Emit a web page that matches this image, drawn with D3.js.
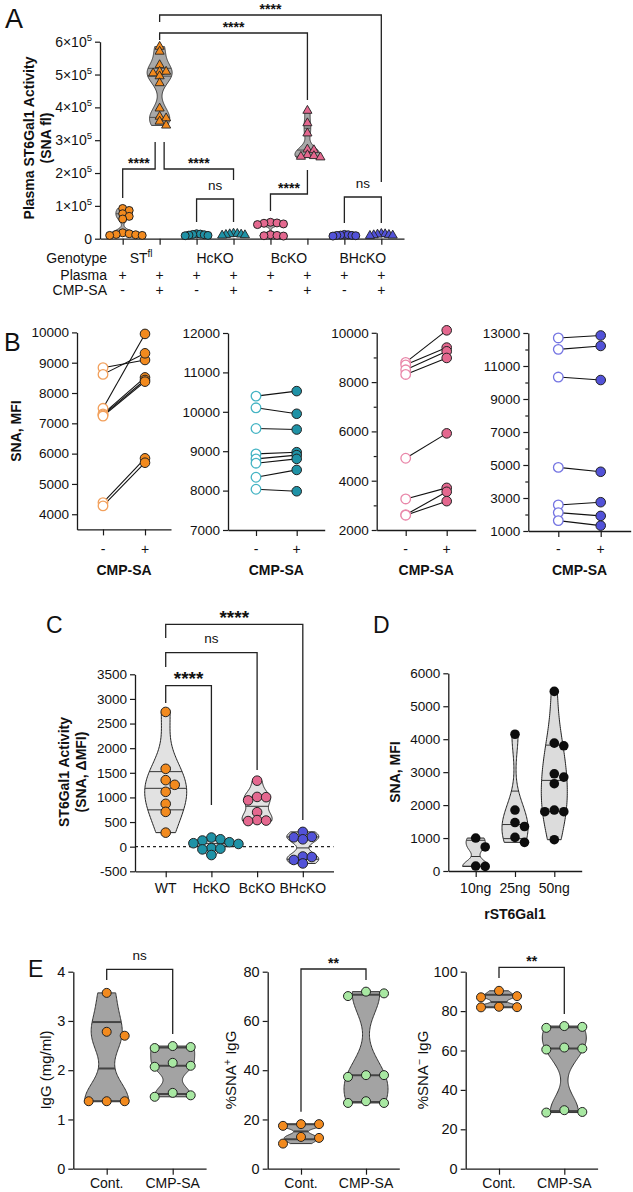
<!DOCTYPE html>
<html><head><meta charset="utf-8">
<script src="https://cdn.jsdelivr.net/npm/d3@7"></script>
<style>
body{margin:0;background:#fff;}
svg{display:block;background:#fff;}
</style></head><body>
<svg id="fig" width="633" height="1192"></svg>
<script>
// ================= DATA =================
// Panel A : plasma ST6Gal1 activity (SNA fl)
const aGroups   = ["STfl-","STfl+","HcKO-","HcKO+","BcKO-","BcKO+","BHcKO-","BHcKO+"];
const aGenotype = ["ST","HcKO","BcKO","BHcKO"];
const aPlasma   = ["+","+","+","+","+","+","+","+"];
const aCmpSa    = ["-","+","-","+","-","+","-","+"];
const aYTicks   = [0,100000,200000,300000,400000,500000,600000];
const aSTflMinus  = [92000,86000,76000,68000,60000,18000,15000,13000,12000,10000,10000];
const aSTflPlus   = [585000,570000,529000,509000,509000,504000,495000,474000,397000,372000,367000,357000,345000];
const aHcKOMinus  = [15000,14000,13000,12000,11000,10000,9000];
const aHcKOPlus   = [16000,15000,14000,13000,12000,11000,10000];
const aBcKOMinus  = [50000,48000,47000,45000,43000,12000,10000,9000,8000];
const aBcKOPlus   = [390000,352000,321000,272000,270000,255000,252000,250000,248000];
const aBHcKOMinus = [13000,12000,11000,10000,10000,9000,8000];
const aBHcKOPlus  = [15000,14000,13000,12000,11000,10000,9000];

// Panel B : SNA MFI before (-) / after (+) CMP-SA
const bXLabels = ["-","+"];
const b1Before = [8835,8615,7495,7310,7280,7240,4385,4275];
const b1After  = [9090,9310,9950,8515,8430,8375,5845,5700];
const b1Ticks  = [4000,5000,6000,7000,8000,9000,10000];
const b2Before = [10398,10102,9576,8932,8805,8695,8339,8034];
const b2After  = [10525,9950,9550,8975,8900,8805,8525,7983];
const b2Ticks  = [7000,8000,9000,10000,11000,12000];
const b3Before = [8800,8700,8500,8310,4910,3260,2620,2600];
const b3After  = [10100,9400,9250,8980,5920,3710,3550,3170];
const b3Ticks  = [2000,4000,6000,8000,10000];
const b3Minor  = [3000,5000,7000,9000];
const b4Before = [12700,12010,10330,4855,2580,2115,1630];
const b4After  = [12850,12215,10150,4590,2745,1915,1325];
const b4Ticks  = [1000,3000,5000,7000,9000,11000,13000];
const b4Minor  = [2000,4000,6000,8000,10000,12000];

// Panel C : ST6Gal1 activity (SNA, delta MFI)
const cGroups = ["WT","HcKO","BcKO","BHcKO"];
const cTicks  = [-500,0,500,1000,1500,2000,2500,3000,3500];
const cWT     = [2736,1581,1351,1256,1114,870,707,285];
const cHcKO   = [185,150,125,90,70,55,-30,-40,-55,-170];
const cBcKO   = [1340,1010,1005,940,700,540,530,520];
const cBHcKO  = [300,200,190,150,-200,-210,-270,-340];

// Panel D : rST6Gal1 dose
const dGroups = ["10ng","25ng","50ng"];
const dTicks  = [0,1000,2000,3000,4000,5000,6000];
const d10 = [1000,730,150,140];
const d25 = [4150,1850,1470,1350,1020,870];
const d50 = [5450,3880,3800,2950,2850,2650,1850,1800,1800,950];

// Panel E
const eGroups = ["Cont.","CMP-SA"];
const e1Ticks = [0,1,2,3,4];
const e1Cont  = [3.57,2.78,2.70,1.37,1.37,1.37];
const e1Cmp   = [2.49,2.47,2.45,2.15,2.09,2.07,1.54,1.49,1.46];
const e2Ticks = [0,20,40,60,80];
const e2Cont  = [18.1,18.1,17.4,12.9,12.5,10.2];
const e2Cmp   = [71.9,71.2,70.1,38.0,38.0,37.3,27.4,26.7,26.7];
const e3Ticks = [0,20,40,60,80,100];
const e3Cont  = [90.3,87.6,87.0,82.2,82.0,81.9];
const e3Cmp   = [72.4,72.0,71.5,61.5,61.0,60.5,29.7,28.8,28.5];

// ================= HELPERS =================
const FONT = "'Liberation Sans', Arial, Helvetica, sans-serif";
const COL = {orange:"#F28A1E", orangeOpen:"#F2A05C", teal:"#1F92A6", tealOpen:"#45B4C4",
  pink:"#E4688F", pinkOpen:"#E987A9", blue:"#5252D8", blueOpen:"#7474E2", green:"#A8E8A2", ink:"#1a1a1a"};
const svg = d3.select("#fig").attr("font-family", FONT);

function text(g, x, y, s, o = {}) {
  const t = g.append("text").attr("x", x).attr("y", y).text(s)
    .attr("font-size", o.fs || 14).attr("fill", o.fill || "#111")
    .attr("text-anchor", o.anchor || "middle");
  if (o.bold) t.attr("font-weight", "bold");
  return t;
}
function vtext(g, x, y, parts, o = {}) {
  const t = g.append("text").attr("transform", `translate(${x},${y}) rotate(-90)`)
    .attr("text-anchor", "middle").attr("font-size", o.fs || 14).attr("fill", "#111");
  if (o.bold) t.attr("font-weight", "bold");
  parts.forEach(p => {
    const ts = t.append("tspan").text(p.t);
    if (p.sup) ts.attr("dy", -5).attr("font-size", (o.fs || 14) * 0.7);
    if (p.after) ts.attr("dy", 5);
  });
  return t;
}
function styleAxis(a, fs) {
  a.attr("font-family", FONT).attr("font-size", fs);
  a.select(".domain").attr("stroke", COL.ink).attr("stroke-width", 1.3);
  a.selectAll(".tick line").attr("stroke", COL.ink).attr("stroke-width", 1.2);
  a.selectAll(".tick text").attr("fill", "#111");
}
function leftAxis(g, y, x, ticks, fs, minor, fmt) {
  if (minor) {
    g.append("g").attr("transform", `translate(${x},0)`)
      .call(d3.axisLeft(y).tickValues(minor).tickSize(3).tickFormat("").tickSizeOuter(0))
      .call(a => { a.select(".domain").remove(); a.selectAll("line").attr("stroke", COL.ink).attr("stroke-width", 1.2); });
  }
  const a = g.append("g").attr("transform", `translate(${x},0)`)
    .call(d3.axisLeft(y).tickValues(ticks).tickSize(5).tickPadding(3).tickSizeOuter(0)
      .tickFormat(fmt || (d => String(d))));
  styleAxis(a, fs);
  return a;
}
function bottomAxis(g, x, yPos) {
  const a = g.append("g").attr("transform", `translate(0,${yPos})`)
    .call(d3.axisBottom(x).tickSize(6).tickSizeOuter(0).tickFormat(""));
  styleAxis(a, 12);
  return a;
}
function quantileGP(s, p) {
  const n = s.length; const pos = p * (n + 1);
  if (pos <= 1) return s[0];
  if (pos >= n) return s[n - 1];
  const i = Math.floor(pos), f = pos - i;
  return s[i - 1] + f * (s[i] - s[i - 1]);
}
function violin(g, values, cx, y, o) {
  const s = values.slice().sort(d3.ascending);
  const lo = s[0], hi = s[s.length - 1], span = hi - lo;
  if (span <= 0) return;
  const sd = d3.deviation(values) || span;
  let h = (o.bw || 0.5) * 1.06 * sd * Math.pow(values.length, -0.2);
  h = Math.max(h, span * (o.minFrac == null ? 0.18 : o.minFrac));
  const dens = v => d3.sum(values, x => Math.exp(-0.5 * ((v - x) / h) ** 2));
  const pts = d3.range(81).map(i => { const v = lo + span * i / 80; return [v, dens(v)]; });
  const wS = d3.scaleLinear().domain([0, d3.max(pts, p => p[1])]).range([0, o.half]);
  const area = d3.area().y(p => y(p[0])).x0(p => cx - wS(p[1])).x1(p => cx + wS(p[1])).curve(d3.curveCatmullRom);
  g.append("path").datum(pts).attr("d", area).attr("fill", o.fill)
    .attr("stroke", o.stroke || "#222").attr("stroke-width", o.sw || 1);
  [0.25, 0.5, 0.75].forEach(p => {
    const q = quantileGP(s, p), hw = wS(dens(q));
    g.append("line").attr("x1", cx - hw).attr("x2", cx + hw).attr("y1", y(q)).attr("y2", y(q))
      .attr("stroke", o.qStroke || "#333").attr("stroke-width", o.qw || 1);
  });
}
function swarm(values, y, step, minDist) {
  const placed = [];
  return values.map(v => {
    const py = y(v);
    for (let k = 0; k < 60; k++) {
      const off = (k === 0 ? 0 : (k % 2 ? 1 : -1) * Math.ceil(k / 2)) * step;
      if (placed.every(q => Math.hypot(q[0] - off, q[1] - py) >= minDist)) { placed.push([off, py]); return off; }
    }
    return 0;
  });
}
function points(g, values, cx, y, o) {
  const offs = swarm(values, y, o.step, o.minDist);
  if (o.shape === "tri") {
    const sym = d3.symbol(d3.symbolTriangle).size(o.size || 34);
    g.selectAll(null).data(values).join("path").attr("d", sym)
      .attr("transform", (d, i) => `translate(${cx + offs[i]},${y(d)})`)
      .attr("fill", o.fill).attr("stroke", o.stroke || "#222").attr("stroke-width", 0.9);
  } else {
    g.selectAll(null).data(values).join("circle")
      .attr("cx", (d, i) => cx + offs[i]).attr("cy", d => y(d)).attr("r", o.r)
      .attr("fill", o.fill).attr("stroke", o.stroke || "#222").attr("stroke-width", o.sw == null ? 1 : o.sw);
  }
}
function bracket(g, xa, xb, yl, ya, yb, label, o = {}) {
  g.append("path").attr("d", `M${xa},${ya}V${yl}H${xb}V${yb}`)
    .attr("fill", "none").attr("stroke", "#222").attr("stroke-width", 1.3);
  const mx = (xa + xb) / 2;
  if (label === "ns") text(g, mx, yl - 9.5, "ns", {fs: 13.5});
  else text(g, mx, yl - (o.off == null ? 1.5 : o.off), label, {fs: o.fs || 14, bold: true});
}

// ================= PANEL A =================
const gA = svg.append("g");
text(gA, 5, 28, "A", {fs: 27, anchor: "start"});
const xA = d3.scalePoint().domain(aGroups).range([100, 404]).padding(0.614);
const yA = d3.scaleLinear().domain([0, 600000]).range([238.7, 41.7]);
const aSeries = [aSTflMinus, aSTflPlus, aHcKOMinus, aHcKOPlus, aBcKOMinus, aBcKOPlus, aBHcKOMinus, aBHcKOPlus];
const aColors = [COL.orange, COL.orange, COL.teal, COL.teal, COL.pink, COL.pink, COL.blue, COL.blue];

const xa = k => xA(k);
bracket(gA, xa("STfl+"), xa("BHcKO+"), 15, 22, 182, "****");
bracket(gA, xa("STfl+"), xa("BcKO+"), 33, 40, 100, "****");
bracket(gA, xa("STfl-"), xa("STfl+") - 4.5, 169, 198, 142, "****");
bracket(gA, xa("STfl+") + 4.5, xa("HcKO+"), 169, 142, 180, "****");
bracket(gA, xa("HcKO-"), xa("HcKO+"), 199, 222, 222, "ns");
bracket(gA, xa("BcKO-"), xa("BcKO+"), 194, 211, 170, "****");
bracket(gA, xa("BHcKO-"), xa("BHcKO+"), 197, 223, 223, "ns");

aSeries.forEach((vals, i) => {
  violin(gA, vals, xA(aGroups[i]), yA, {half: 12.5, fill: "#a8a8a8", stroke: "#333", sw: 0.9, qStroke: "#444", qw: 0.9, bw: 0.5, minFrac: 0.1});
});
const aAx = leftAxis(gA, yA, 100, aYTicks, 14, null, () => "");
aAx.selectAll(".tick text").each(function (d) {
  const t = d3.select(this);
  if (d === 0) { t.text("0"); return; }
  t.append("tspan").text(`${d / 100000}×10`);
  t.append("tspan").attr("dy", -6).attr("font-size", 9.5).text("5");
});
bottomAxis(gA, xA, 238.7);
aSeries.forEach((vals, i) => {
  const near0 = d3.max(vals) < 30000;
  points(gA, vals, xA(aGroups[i]), yA, {shape: i % 2 ? "tri" : "circle", r: 4, size: 36,
    fill: aColors[i], step: near0 ? 3.8 : 6.5, minDist: near0 ? 3.8 : 4.5});
});
vtext(gA, 33.5, 138, [{t: "Plasma ST6Gal1 Activity"}], {bold: true, fs: 14});
vtext(gA, 51, 138, [{t: "(SNA fl)"}], {bold: true, fs: 14});
text(gA, 107, 263, "Genotype", {anchor: "end"});
text(gA, 107, 280, "Plasma", {anchor: "end"});
text(gA, 107, 295, "CMP-SA", {anchor: "end"});
aGenotype.forEach((gname, j) => {
  const cx = (xA(aGroups[2 * j]) + xA(aGroups[2 * j + 1])) / 2;
  const t = text(gA, cx, 263, gname);
  if (j === 0) t.append("tspan").attr("dy", -6).attr("font-size", 10).text("fl");
});
aGroups.forEach((k, i) => {
  text(gA, xA(k), 280, aPlasma[i], {fs: 14});
  text(gA, xA(k), 295, aCmpSa[i], {fs: 14});
});

// ================= PANEL B =================
const gB = svg.append("g");
text(gB, 4, 351, "B", {fs: 25, anchor: "start"});
vtext(gB, 20.5, 431, [{t: "SNA, MFI"}], {bold: true, fs: 14});
const bPanels = [
  {before: b1Before, after: b1After, ticks: b1Ticks, minor: null, dom: [3500, 10000], yr: [529.4, 332.4], ax: 77, x0: 103, x1: 145, open: COL.orangeOpen, fill: COL.orange},
  {before: b2Before, after: b2After, ticks: b2Ticks, minor: null, dom: [7000, 12000], yr: [530, 333], ax: 228, x0: 256, x1: 296.7, open: COL.tealOpen, fill: COL.teal},
  {before: b3Before, after: b3After, ticks: b3Ticks, minor: b3Minor, dom: [2000, 10000], yr: [530, 332.8], ax: 376.7, x0: 405.7, x1: 446.7, open: COL.pinkOpen, fill: COL.pink},
  {before: b4Before, after: b4After, ticks: b4Ticks, minor: b4Minor, dom: [1000, 13000], yr: [531, 333], ax: 528.3, x0: 558.3, x1: 600.7, open: COL.blueOpen, fill: COL.blue}
];
bPanels.forEach(p => {
  const step = p.x1 - p.x0, pad = (p.x0 - p.ax) / step;
  const x = d3.scalePoint().domain(bXLabels).range([p.ax, p.ax + step * (1 + 2 * pad)]).padding(pad);
  const y = d3.scaleLinear().domain(p.dom).range(p.yr);
  const g = gB.append("g");
  leftAxis(g, y, p.ax, p.ticks, 13.5, p.minor);
  bottomAxis(g, x, p.yr[0]);
  p.before.forEach((v, i) => {
    g.append("line").attr("x1", x("-")).attr("y1", y(v)).attr("x2", x("+")).attr("y2", y(p.after[i]))
      .attr("stroke", "#111").attr("stroke-width", 1.1);
  });
  g.selectAll(null).data(p.before).join("circle").attr("cx", x("-")).attr("cy", d => y(d)).attr("r", 4.8)
    .attr("fill", "#fff").attr("stroke", p.open).attr("stroke-width", 1.3);
  g.selectAll(null).data(p.after).join("circle").attr("cx", x("+")).attr("cy", d => y(d)).attr("r", 4.8)
    .attr("fill", p.fill).attr("stroke", "#222").attr("stroke-width", 1);
  bXLabels.forEach(k => text(g, x(k), 554, k, {fs: 14}));
  text(g, (x("-") + x("+")) / 2, 575, "CMP-SA", {bold: true, fs: 14});
});

// ================= PANEL C =================
const gC = svg.append("g");
text(gC, 46, 633, "C", {fs: 23, anchor: "start"});
const xC = d3.scalePoint().domain(cGroups).range([135, 135 + 45.7 * (3 + 2 * 0.672)]).padding(0.672);
const yC = d3.scaleLinear().domain([-500, 3500]).range([871.3, 674.3]);
bracket(gC, xC("WT"), xC("BHcKO"), 624.3, 638, 820, "****", {fs: 19, off: 0.5});
bracket(gC, xC("WT"), xC("BcKO"), 652.7, 667, 770, "ns");
bracket(gC, xC("WT"), xC("HcKO"), 685.7, 703, 805, "****", {fs: 19, off: 0.5});
gC.append("line").attr("x1", 135).attr("x2", xC.range()[1]).attr("y1", yC(0)).attr("y2", yC(0))
  .attr("stroke", "#222").attr("stroke-width", 1.2).attr("stroke-dasharray", "3,3");
const cSeries = [cWT, cHcKO, cBcKO, cBHcKO];
const cColors = [COL.orange, COL.teal, COL.pink, COL.blue];
const cHalf = [21, 15, 15, 16];
cSeries.forEach((vals, i) => violin(gC, vals, xC(cGroups[i]), yC, {half: cHalf[i], fill: "#e2e2e2", stroke: "#222", sw: 1, qStroke: "#333", qw: 1, bw: 0.5}));
leftAxis(gC, yC, 135, cTicks, 13.5);
bottomAxis(gC, xC, 871.3);
cSeries.forEach((vals, i) => points(gC, vals, xC(cGroups[i]), yC, {r: 4.8, fill: cColors[i], step: 9, minDist: 6.5}));
cGroups.forEach(k => text(gC, xC(k), 893, k, {fs: 14}));
vtext(gC, 69, 772, [{t: "ST6Gal1 Activity"}], {bold: true, fs: 14});
vtext(gC, 86, 772, [{t: "(SNA, ΔMFI)"}], {bold: true, fs: 14});

// ================= PANEL D =================
const gD = svg.append("g");
text(gD, 373, 633, "D", {fs: 23, anchor: "start"});
const xD = d3.scalePoint().domain(dGroups).range([448.3, 448.3 + 39.3 * (2 + 2 * 0.697)]).padding(0.697);
const yD = d3.scaleLinear().domain([0, 6000]).range([871, 673.3]);
const dSeries = [d10, d25, d50];
dSeries.forEach((vals, i) => violin(gD, vals, xD(dGroups[i]), yD, {half: 13, fill: "#dcdcdc", stroke: "#222", sw: 1, qStroke: "#333", qw: 1, bw: 0.5}));
leftAxis(gD, yD, 448.3, dTicks, 13.5);
bottomAxis(gD, xD, 871);
dSeries.forEach((vals, i) => points(gD, vals, xD(dGroups[i]), yD, {r: 4.8, fill: "#0d0d0d", sw: 0, step: 9.5, minDist: 9}));
dGroups.forEach(k => text(gD, xD(k), 893, k, {fs: 14}));
text(gD, xD("25ng"), 919, "rST6Gal1", {bold: true, fs: 14});
vtext(gD, 400, 772, [{t: "SNA, MFI"}], {bold: true, fs: 14});

// ================= PANEL E =================
const gE = svg.append("g");
text(gE, 28, 977, "E", {fs: 23, anchor: "start"});
const ePanels = [
  {cont: e1Cont, cmp: e1Cmp, ticks: e1Ticks, dom: [0, 4], ax: 73.3, x0: 106.7, x1: 172.7,
   br: {y: 969.3, ya: 980, yb: 1034, label: "ns"}, title: [{t: "IgG (mg/ml)"}], tx: 50.5},
  {cont: e2Cont, cmp: e2Cmp, ticks: e2Ticks, dom: [0, 80], ax: 267.7, x0: 301, x1: 366,
   br: {y: 969, ya: 1111.7, yb: 980, label: "**"}, title: [{t: "%SNA"}, {t: "+", sup: true}, {t: " IgG", after: true}], tx: 236},
  {cont: e3Cont, cmp: e3Cmp, ticks: e3Ticks, dom: [0, 100], ax: 465.7, x0: 499, x1: 564.3,
   br: {y: 967.3, ya: 978, yb: 1014, label: "**"}, title: [{t: "%SNA"}, {t: "−", sup: true}, {t: " IgG", after: true}], tx: 428}
];
ePanels.forEach(p => {
  const step = p.x1 - p.x0, pad = (p.x0 - p.ax) / step;
  const x = d3.scalePoint().domain(eGroups).range([p.ax, p.ax + step * (1 + 2 * pad)]).padding(pad);
  const y = d3.scaleLinear().domain(p.dom).range([1168.7, 971.7]);
  const g = gE.append("g");
  bracket(g, x("Cont."), x("CMP-SA"), p.br.y, p.br.ya, p.br.yb, p.br.label, {fs: 14, off: 1});
  violin(g, p.cont, x("Cont."), y, {half: 22, fill: "#a3a3a3", stroke: "#333", sw: 1, qStroke: "#444", qw: 2, bw: 0.5});
  violin(g, p.cmp, x("CMP-SA"), y, {half: 22, fill: "#a3a3a3", stroke: "#333", sw: 1, qStroke: "#444", qw: 2, bw: 0.5});
  leftAxis(g, y, p.ax, p.ticks, 14.5);
  bottomAxis(g, x, 1168.7);
  points(g, p.cont, x("Cont."), y, {r: 4.5, fill: COL.orange, step: 18, minDist: 9});
  points(g, p.cmp, x("CMP-SA"), y, {r: 4.5, fill: COL.green, step: 18, minDist: 9});
  eGroups.forEach(k => text(g, x(k), 1188, k, {fs: 14}));
  vtext(g, p.tx, 1070, p.title, {fs: 15});
});
</script>
</body></html>
